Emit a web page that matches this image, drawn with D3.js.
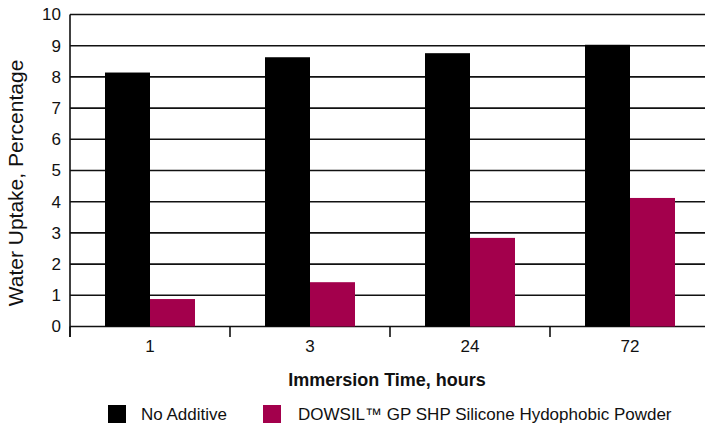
<!DOCTYPE html>
<html><head><meta charset="utf-8">
<script src="https://cdn.jsdelivr.net/npm/d3@7"></script>
<style>body{margin:0;background:#fff}svg{display:block}text{font-family:"Liberation Sans",Arial,sans-serif}</style>
</head><body><div id="c"></div>
<script>
const categories = ["1", "3", "24", "72"];
const seriesNames = ["No Additive", "DOWSIL™ GP SHP Silicone Hydophobic Powder"];
const noAdditive = [8.14, 8.63, 8.76, 9.03];
const dowsil = [0.88, 1.42, 2.84, 4.12];
const yTicks = [0,1,2,3,4,5,6,7,8,9,10];
const colors = ["#000000", "#a3004c"];

const W = 705, H = 425;
const svg = d3.select("#c").append("svg").attr("width", W).attr("height", H);
const x0 = d3.scaleBand().domain(categories).range([70, 710]).paddingInner(0).paddingOuter(0);
const x1 = d3.scaleBand().domain([0,1]).range([0, 90]);
const y = d3.scaleLinear().domain([0, 10]).range([326.5, 14.5]);

// gridlines
svg.append("g").selectAll("line").data(yTicks).join("line")
  .attr("x1", 70).attr("x2", 710).attr("y1", d => y(d)).attr("y2", d => y(d))
  .attr("stroke", "#111").attr("stroke-width", 1.6);

// bars
const series = [noAdditive, dowsil];
const g = svg.append("g");
categories.forEach((c, i) => {
  series.forEach((s, j) => {
    const bx = x0(c) + (x0.bandwidth() - 90) / 2 + x1(j);
    g.append("rect").attr("x", bx).attr("width", x1.bandwidth())
      .attr("y", y(s[i])).attr("height", y(0) - y(s[i])).attr("fill", colors[j]);
  });
});

// y axis
const yAxis = d3.axisLeft(y).tickValues(yTicks).tickSize(0).tickPadding(9).tickFormat(d3.format("d"));
const ya = svg.append("g").attr("transform", "translate(70,0)").call(yAxis);
ya.select(".domain").attr("stroke", "#111").attr("stroke-width", 1.6).attr("d", "M0,14.5V337");
ya.selectAll("text").attr("font-size", 17).attr("fill", "#111").attr("font-family", '"Liberation Sans",Arial,sans-serif');

// x axis
const xAxis = d3.axisBottom(x0).tickSize(0).tickPadding(13);
const xa = svg.append("g").attr("transform", `translate(0,${y(0)})`).call(xAxis);
xa.select(".domain").remove();
xa.selectAll("text").attr("font-size", 17).attr("fill", "#111").attr("font-family", '"Liberation Sans",Arial,sans-serif');
// boundary ticks
svg.append("g").selectAll("line").data(categories).join("line")
  .attr("x1", d => x0(d)).attr("x2", d => x0(d)).attr("y1", y(0)).attr("y2", 337)
  .attr("stroke", "#111").attr("stroke-width", 1.6);

// titles
svg.append("text").attr("x", 387).attr("y", 386).attr("text-anchor", "middle")
  .attr("font-size", 18).attr("font-weight", "bold").attr("fill", "#111").text("Immersion Time, hours");
svg.append("text").attr("transform", "translate(23,183) rotate(-90)").attr("text-anchor", "middle")
  .attr("font-size", 21).attr("fill", "#111").text("Water Uptake, Percentage");

// legend
const lx = [108, 263], tx = [141, 298];
seriesNames.forEach((n, j) => {
  svg.append("rect").attr("x", lx[j]).attr("y", 405).attr("width", 18).attr("height", 18).attr("fill", colors[j]);
  svg.append("text").attr("x", tx[j]).attr("y", 420).attr("font-size", 17).attr("fill", "#111").text(n);
});
</script></body></html>
